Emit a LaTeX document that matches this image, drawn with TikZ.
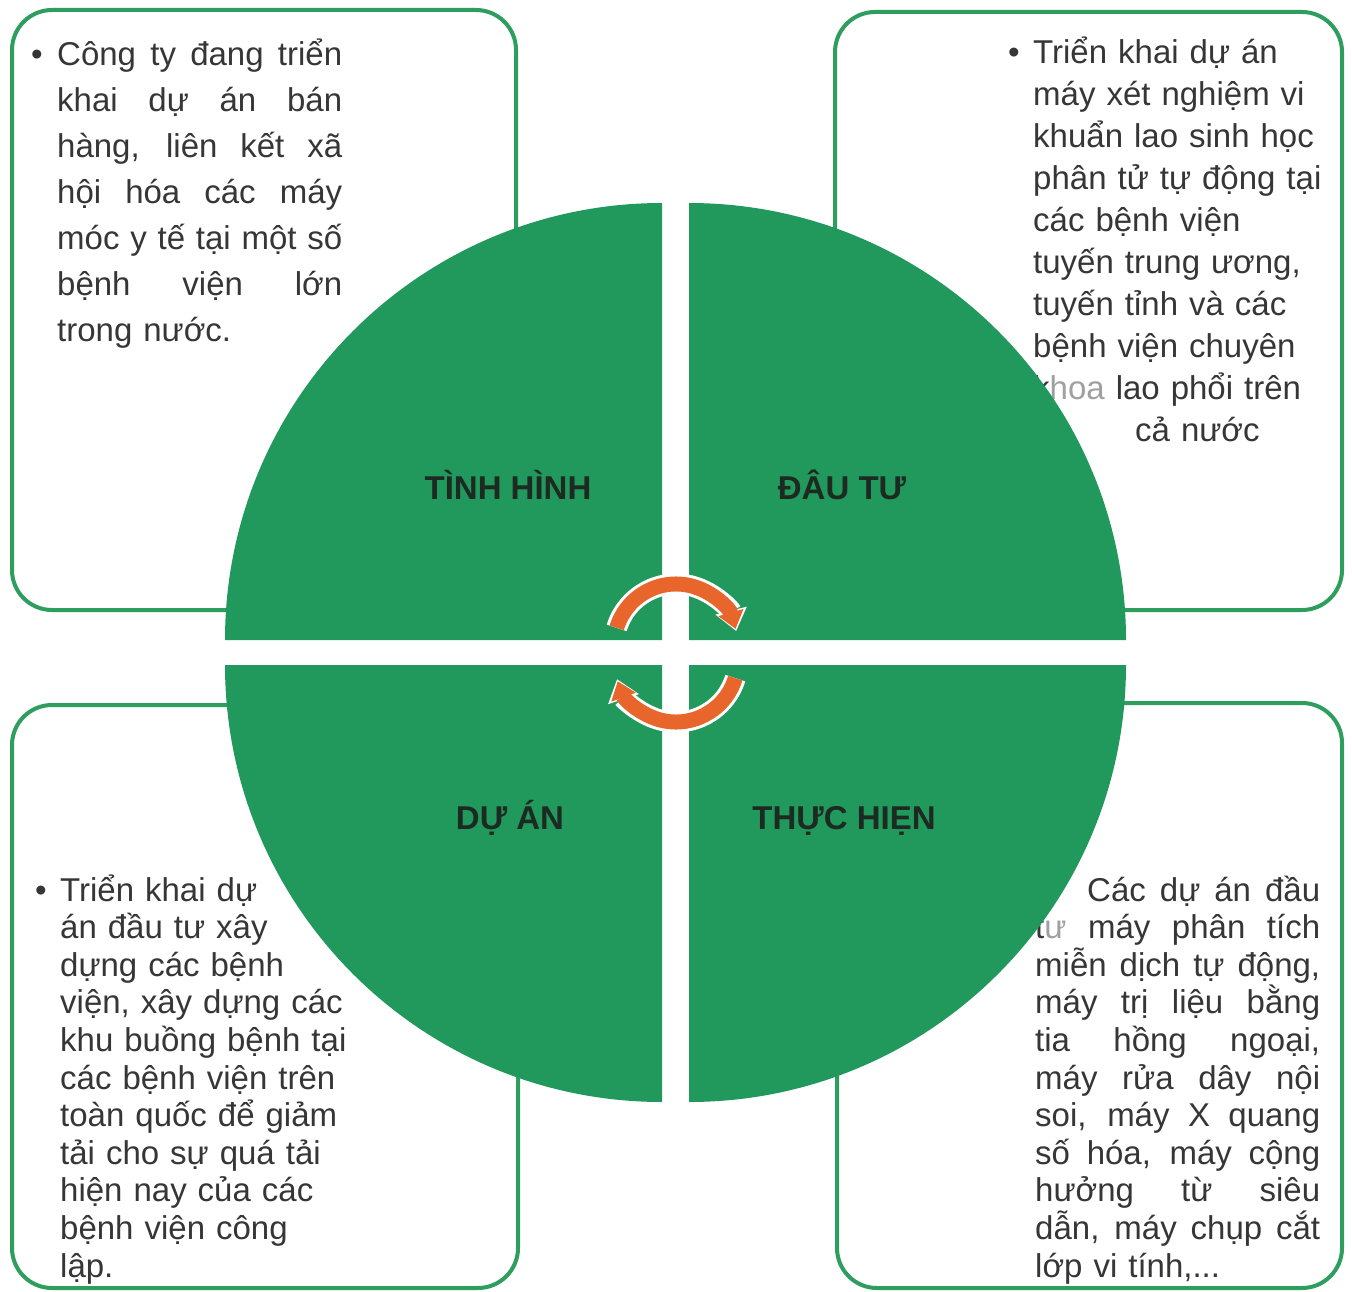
\documentclass[tikz,border=0pt]{standalone}
\usepackage{fontspec}
\setmainfont{Liberation Sans}
\usetikzlibrary{arrows.meta}
\definecolor{qgreen}{HTML}{22995C}
\definecolor{bgreen}{HTML}{2E9E5E}
\definecolor{txtc}{HTML}{363636}
\definecolor{hdc}{HTML}{1C2A21}
\definecolor{orng}{HTML}{E8662C}
\definecolor{faintc}{HTML}{A0A0A0}
\newcommand\JW[2]{{\spaceskip=0pt\xspaceskip=0pt\relax\makebox[#1][s]{#2}}}
\newcommand\J[1]{\JW{285pt}{#1}}
\begin{document}
\begin{tikzpicture}[x=1pt,y=-1pt,
  infobox/.style={draw=bgreen, line width=4pt, rounded corners=40pt},
  bodyA/.style={font=\fontsize{33}{46}\selectfont, text=txtc, inner sep=0pt, anchor=base west, align=left},
  bodyB/.style={font=\fontsize{33}{42}\selectfont, text=txtc, inner sep=0pt, anchor=base west, align=left},
  bodyC/.style={font=\fontsize{33}{37.6}\selectfont, text=txtc, inner sep=0pt, anchor=base west, align=left},
  bullet/.style={font=\fontsize{33}{40}\selectfont, text=txtc, inner sep=0pt, anchor=base},
  header/.style={font=\fontsize{33}{40}\selectfont\bfseries, text=hdc, inner sep=0pt, anchor=base},
  cyc/.style={orng, line width=15pt},
  cycw/.style={white, line width=21pt}
]
\useasboundingbox (0,0) rectangle (1352,1292);
\clip (0,0) rectangle (1352,1292);
\fill[white] (0,0) rectangle (1352,1292);

% ---------- texts ----------
\node[bullet] (b1) at (37,66) {•};
\node[bodyA, text width=300pt] (tltext) at (57,66) {%
\J{Công ty đang triển}\\
\J{khai dự án bán}\\
\J{hàng, liên kết xã}\\
\J{hội hóa các máy}\\
\J{móc y tế tại một số}\\
\J{bệnh viện lớn}\\
trong nước.};

\node[bullet] (b2) at (1014,64) {•};
\node[bodyB, text width=300pt] (trtext) at (1033,64) {%
Triển khai dự án\\
máy xét nghiệm vi\\
khuẩn lao sinh học\\
phân tử tự động tại\\
các bệnh viện\\
tuyến trung ương,\\
tuyến tỉnh và các\\
bệnh viện chuyên\\
k{\color{faintc}hoa} lao phổi trên\\
\hspace*{102pt}cả nước};

\node[bullet] (b3) at (41,901) {•};
\node[bodyC, text width=300pt] (bltext) at (60,901) {%
Triển khai dự\\
án đầu tư xây\\
dựng các bệnh\\
viện, xây dựng các\\
khu buồng bệnh tại\\
các bệnh viện trên\\
toàn quốc để giảm\\
tải cho sự quá tải\\
hiện nay của các\\
bệnh viện công\\
lập.};

\node[bodyC, text width=300pt] (brtext) at (1035,901) {%
\hspace*{52pt}\JW{233pt}{Các dự án đầu}\\
\J{t{\color{faintc}ư} máy phân tích}\\
\J{miễn dịch tự động,}\\
\J{máy trị liệu bằng}\\
\J{tia hồng ngoại,}\\
\J{máy rửa dây nội}\\
\J{soi, máy X quang}\\
\J{số hóa, máy cộng}\\
\J{hưởng từ siêu}\\
\J{dẫn, máy chụp cắt}\\
lớp vi tính,...};

% ---------- boxes ----------
\draw[infobox] (12,10) rectangle (516,610);
\draw[infobox] (835,12) rectangle (1342,610);
\draw[infobox] (12,705) rectangle (518,1288);
\draw[infobox] (837,703) rectangle (1342,1288);

% ---------- circle quadrants ----------
\fill[qgreen] (662,640) -- (225,640) arc[start angle=180, end angle=270, radius=437] -- cycle;
\fill[qgreen] (689,640) -- (689,203) arc[start angle=270, end angle=360, radius=437] -- cycle;
\fill[qgreen] (662,665) -- (225,665) arc[start angle=180, end angle=90, radius=437] -- cycle;
\fill[qgreen] (689,665) -- (1126,665) arc[start angle=0, end angle=90, radius=437] -- cycle;

% ---------- cycle arrows ----------
\draw[cycw, -{Triangle[width=31pt,length=21pt]}] ([shift={(197:62)}]676,646) arc[start angle=197, end angle=346, radius=62];
\draw[cyc, -{Triangle[width=25pt,length=17pt]}] ([shift={(197:62)}]676,646) arc[start angle=197, end angle=344, radius=62];
\draw[cycw, -{Triangle[width=31pt,length=21pt]}] ([shift={(17:62)}]676,660) arc[start angle=17, end angle=162, radius=62];
\draw[cyc, -{Triangle[width=25pt,length=17pt]}] ([shift={(17:62)}]676,660) arc[start angle=17, end angle=160, radius=62];

% ---------- headers ----------
\node[header] (h1) at (508,499) {TÌNH HÌNH};
\node[header] (h2) at (842,499) {ĐÂU TƯ};
\node[header] (h3) at (510,829) {DỰ ÁN};
\node[header] (h4) at (844,829) {THỰC HIẸN};
\end{tikzpicture}
\end{document}
